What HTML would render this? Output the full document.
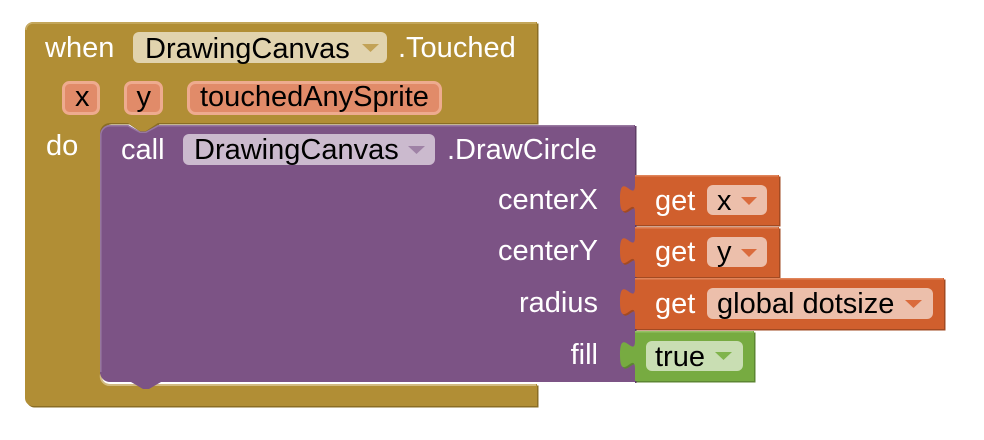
<!DOCTYPE html>
<html>
<head>
<meta charset="utf-8">
<style>
  html, body { margin:0; padding:0; background:#ffffff; }
  svg { display:block; }
  text { font-family: "Liberation Sans", Arial, sans-serif; font-size:29px; }
  .w { fill:#ffffff; }
  .b { fill:#000000; }
</style>
</head>
<body>
<svg width="984" height="440" viewBox="0 0 984 440" xmlns="http://www.w3.org/2000/svg">
  <rect width="984" height="440" fill="#ffffff"/>

  <!-- Gold event block: shadow -->
  <path transform="translate(1.5,1.5)" fill="#8a6d24"
    d="M25,30 A8,8 0 0 1 33,22 H537 V123 H158 L146,131 H140 L128,123 H110 A10,10 0 0 0 100,133 V374 A10,10 0 0 0 110,384 H537 V406 H33 A8,8 0 0 1 25,398 Z"/>
  <!-- Gold main -->
  <path fill="#b18e35"
    d="M25,30 A8,8 0 0 1 33,22 H537 V123 H158 L146,131 H140 L128,123 H110 A10,10 0 0 0 100,133 V374 A10,10 0 0 0 110,384 H537 V406 H33 A8,8 0 0 1 25,398 Z"/>
  <!-- gold highlights -->
  <path fill="none" stroke="#c9ad66" stroke-width="1.5" d="M26,30 A7,7 0 0 1 33,23 H536"/>
  <path fill="none" stroke="#d2bb82" stroke-width="2" d="M101,374 A9,9 0 0 0 110,385 H536"/>

  <!-- when row -->
  <text class="w" x="45" y="57">when</text>
  <rect x="133" y="32" width="254" height="31" rx="6" fill="#e1d3ae"/>
  <text class="b" x="145" y="58">DrawingCanvas</text>
  <polygon points="362,44 379,44 370.5,52" fill="#c2a257"/>
  <text class="w" x="398" y="57">.Touched</text>

  <!-- parameter row -->
  <rect x="63.5" y="82.5" width="35" height="31" rx="6" fill="#e18b69" stroke="#eeab8f" stroke-width="3"/>
  <text class="b" x="75" y="106">x</text>
  <rect x="125.5" y="82.5" width="36" height="31" rx="6" fill="#e18b69" stroke="#eeab8f" stroke-width="3"/>
  <text class="b" x="136.5" y="106">y</text>
  <rect x="188.5" y="82.5" width="252" height="31" rx="7" fill="#e18b69" stroke="#eeab8f" stroke-width="3"/>
  <text class="b" x="200" y="106">touchedAnySprite</text>

  <text class="w" x="46" y="155">do</text>

  <!-- Purple call block: right shadow -->
  <rect x="635" y="126" width="1.5" height="257" fill="#5f3e66"/>
  <!-- Purple main -->
  <path fill="#7c5385"
    d="M100,135 A10,10 0 0 1 110,125 H128 L140,131.5 H146 L158,125 H635 V382 H161 L149,389 H143 L131,382 H110 A10,10 0 0 1 100,372 Z"/>
  <path fill="none" stroke="#9878a0" stroke-width="1.5" d="M100.8,372 V135 A9.2,9.2 0 0 1 110,125.8 H128 L140,132.3 H146 L158,125.8 H634"/>

  <text class="w" x="121" y="159">call</text>
  <rect x="183" y="134" width="252" height="31" rx="6" fill="#cbbace"/>
  <text class="b" x="194" y="159">DrawingCanvas</text>
  <polygon points="408,146 425,146 416.5,154" fill="#9f82a6"/>
  <text class="w" x="447" y="159">.DrawCircle</text>

  <text class="w" x="598" y="209" text-anchor="end">centerX</text>
  <text class="w" x="598" y="260" text-anchor="end">centerY</text>
  <text class="w" x="598" y="312" text-anchor="end">radius</text>
  <text class="w" x="598" y="364" text-anchor="end">fill</text>

  <!-- get x -->
  <path transform="translate(1.5,1.5)" fill="#a24a22"
    d="M635,175 H779 V225 H635 V213 C635,194 620,228 620,198.75 C620,169.5 635,203.5 635,184.5 Z"/>
  <path fill="#d05f2d"
    d="M635,175 H779 V225 H635 V213 C635,194 620,228 620,198.75 C620,169.5 635,203.5 635,184.5 Z"/>
  <path fill="none" stroke="#e0845a" stroke-width="1.5" d="M635,175.8 H778"/>
  <text class="w" x="655" y="210">get</text>
  <rect x="707" y="185" width="60" height="30" rx="6" fill="#ecbfab"/>
  <text class="b" x="717" y="210">x</text>
  <polygon points="741,197 757,197 749,205" fill="#da6b3c"/>

  <!-- get y -->
  <path transform="translate(1.5,1.5)" fill="#a24a22"
    d="M635,227 H779 V277 H635 V265 C635,246 620,280 620,250.75 C620,221.5 635,255.5 635,236.5 Z"/>
  <path fill="#d05f2d"
    d="M635,227 H779 V277 H635 V265 C635,246 620,280 620,250.75 C620,221.5 635,255.5 635,236.5 Z"/>
  <path fill="none" stroke="#e0845a" stroke-width="1.5" d="M635,227.8 H778"/>
  <text class="w" x="655" y="261">get</text>
  <rect x="707" y="237" width="60" height="30" rx="6" fill="#ecbfab"/>
  <text class="b" x="717" y="261">y</text>
  <polygon points="741,249 757,249 749,257" fill="#da6b3c"/>

  <!-- get global dotsize -->
  <path transform="translate(1.5,1.5)" fill="#a24a22"
    d="M635,278 H944 V329 H635 V316 C635,297 620,331 620,301.75 C620,272.5 635,306.5 635,287.5 Z"/>
  <path fill="#d05f2d"
    d="M635,278 H944 V329 H635 V316 C635,297 620,331 620,301.75 C620,272.5 635,306.5 635,287.5 Z"/>
  <path fill="none" stroke="#e0845a" stroke-width="1.5" d="M635,278.8 H943"/>
  <text class="w" x="655" y="313">get</text>
  <rect x="707" y="288" width="226" height="31" rx="6" fill="#ecbfab"/>
  <text class="b" x="717" y="313">global dotsize</text>
  <polygon points="905,300 922,300 913.5,308" fill="#da6b3c"/>

  <!-- true -->
  <path transform="translate(1.5,1.5)" fill="#5c8632"
    d="M635,331 H754 V381 H635 V369 C635,350 620,384 620,354.75 C620,325.5 635,359.5 635,340.5 Z"/>
  <path fill="#77ab41"
    d="M635,331 H754 V381 H635 V369 C635,350 620,384 620,354.75 C620,325.5 635,359.5 635,340.5 Z"/>
  <path fill="none" stroke="#96c266" stroke-width="1.5" d="M635,331.8 H753"/>
  <rect x="646" y="341" width="97" height="30" rx="6" fill="#c9deb3"/>
  <text class="b" x="655" y="366">true</text>
  <polygon points="715,352 732,352 723.5,360" fill="#80b44c"/>
</svg>
</body>
</html>
